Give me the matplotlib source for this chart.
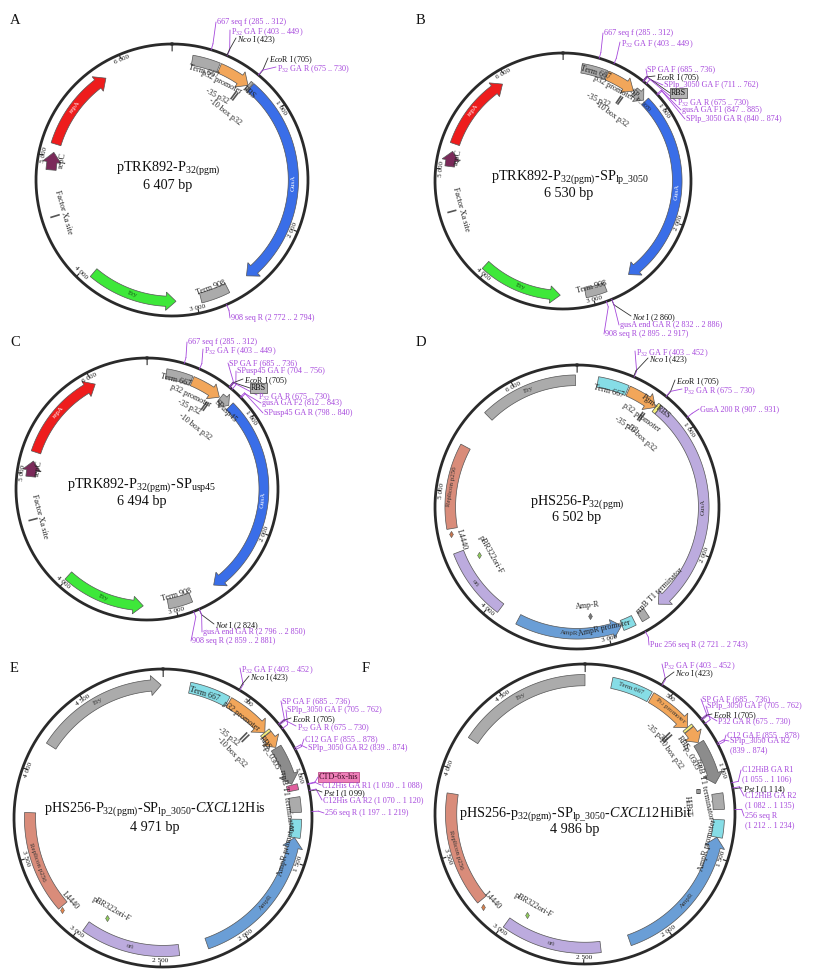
import numpy as np
import matplotlib
matplotlib.use("Agg")
import matplotlib.pyplot as plt

W, H = 816, 977

# ============================ DATA ============================
# ---- A : pTRK892-P32(pgm)
A_title = r"pTRK892-P$_{\mathrm{32(pgm)}}$"
A_bp_text = "6 407 bp"
A_size = 6407
A_feat_name = ["Term 667", "p32 promoter", "RBS", "GusA", "Term 908", "Ery", "repC", "repA"]
A_feat_start = [170, 410, 690, 718, 2720, 3170, 4890, 5110]
A_feat_end = [400, 690, 712, 2530, 2960, 3920, 5040, 5820]
A_feat_dir = [0, 1, 0, 1, 0, -1, 1, 1]
A_ticks = [1, 1000, 2000, 3000, 4000, 5000, 6000]
A_site_name = ["-35", "-10", "Factor Xa site"]
A_site_bp = [640, 662, 4500]
A_primer_text = ["667 seq f (285 .. 312)", r"P$_{32}$ GA F (403 .. 449)", r"$\mathit{Nco}$ I (423)",
                 r"$\mathit{Eco}$R I (705)", r"P$_{32}$ GA R (675 .. 730)", "908 seq R (2 772 .. 2 794)"]
A_primer_bp = [298, 426, 423, 705, 702, 2783]
A_primer_kind = ["p", "p", "e", "e", "p", "p"]
A_inner_text = ["Term 667", "p32 promoter", "RBS", "-35 p32", "-10 box p32", "Term 908",
                "Factor Xa site", "repC"]
A_band_text = ["GusA", "Ery", "repA"]

# ---- B : pTRK892-P32(pgm)-SPlp_3050
B_title = r"pTRK892-P$_{\mathrm{32(pgm)}}$-SP$_{\mathrm{lp\_3050}}$"
B_bp_text = "6 530 bp"
B_size = 6530
B_feat_name = ["Term 667", "p32 promoter", "SP", "GusA", "Term 908", "Ery", "repC", "repA"]
B_feat_start = [170, 410, 700, 832, 2870, 3290, 5030, 5240]
B_feat_end = [400, 690, 815, 2630, 3060, 4040, 5170, 5950]
B_feat_dir = [0, 1, 1, 1, 0, -1, 1, 1]
B_ticks = [1, 1000, 2000, 3000, 4000, 5000, 6000]
B_site_name = ["-35", "-10", "Factor Xa site"]
B_site_bp = [622, 644, 4620]
B_primer_text = ["667 seq f (285 .. 312)", r"P$_{32}$ GA F (403 .. 449)", "SP GA F (685 .. 736)",
                 r"$\mathit{Eco}$R I (705)", "SPlp_3050 GA F (711 .. 762)", "RBS",
                 r"P$_{32}$ GA R (675 .. 730)", "gusA GA F1 (847 .. 885)", "SPlp_3050 GA R (840 .. 874)",
                 r"$\mathit{Not}$ I (2 860)", "gusA end GA R (2 832 .. 2 886)", "908 seq R (2 895 .. 2 917)"]
B_primer_bp = [298, 426, 710, 705, 736, 700, 702, 866, 857, 2860, 2859, 2906]
B_primer_kind = ["p", "p", "p", "e", "p", "box", "p", "p", "p", "e", "p", "p"]
B_inner_text = ["Term 667", "p32 promoter", r"SP$_{\mathrm{lp\_3050}}$", "-35 p32", "-10 box p32",
                "Term 908", "Factor Xa site", "repC"]
B_band_text = ["GusA", "Ery", "repA"]

# ---- C : pTRK892-P32(pgm)-SPusp45
C_title = r"pTRK892-P$_{\mathrm{32(pgm)}}$-SP$_{\mathrm{usp45}}$"
C_bp_text = "6 494 bp"
C_size = 6494
C_feat_name = ["Term 667", "p32 promoter", "SPusp45", "GusA", "Term 908", "Ery", "repC", "repA"]
C_feat_start = [170, 410, 700, 812, 2850, 3280, 4980, 5200]
C_feat_end = [400, 690, 800, 2620, 3060, 4010, 5120, 6020]
C_feat_dir = [0, 1, 1, 1, 0, -1, 1, 1]
C_ticks = [1, 1000, 2000, 3000, 4000, 5000, 6000]
C_site_name = ["-35", "-10", "Factor Xa site"]
C_site_bp = [620, 642, 4600]
C_primer_text = ["667 seq f (285 .. 312)", r"P$_{32}$ GA F (403 .. 449)", "SP GA F (685 .. 736)",
                 "SPusp45 GA F (704 .. 756)", r"$\mathit{Eco}$R I (705)", "RBS",
                 r"P$_{32}$ GA R (675 .. 730)", "gusA GA F2 (812 .. 843)", "SPusp45 GA R (798 .. 840)",
                 r"$\mathit{Not}$ I (2 824)", "gusA end GA R (2 796 .. 2 850)", "908 seq R (2 859 .. 2 881)"]
C_primer_bp = [298, 426, 710, 730, 705, 700, 702, 828, 819, 2824, 2823, 2870]
C_primer_kind = ["p", "p", "p", "p", "e", "box", "p", "p", "p", "e", "p", "p"]
C_inner_text = ["Term 667", "p32 promoter", "SPusp45", "-35 p32", "-10 box p32", "Term 908",
                "Factor Xa site", "repC"]
C_band_text = ["GusA", "Ery", "repA"]

# ---- D : pHS256-P32(pgm)
D_title = r"pHS256-P$_{\mathrm{32(pgm)}}$"
D_bp_text = "6 502 bp"
D_size = 6502
D_feat_name = ["Term 667", "p32 promoter", "Pgm+RBS", "GusA", "rrnB T1 terminator", "AmpR promoter",
               "AmpR", "ori", "Replicon p256", "Ery"]
D_feat_start = [170, 430, 690, 722, 2650, 2770, 2880, 3920, 4700, 5700]
D_feat_end = [420, 690, 720, 2530, 2715, 2875, 3750, 4500, 5390, 6490]
D_feat_dir = [0, 1, 0, 1, 0, 0, -1, 0, 0, 0]
D_ticks = [1, 1000, 2000, 3000, 4000, 5000, 6000]
D_site_name = ["-35", "-10", "Amp-R", "pBR322ori-F", "L4440"]
D_site_bp = [628, 648, 3127, 4410, 4660]
D_primer_text = [r"P$_{32}$ GA F (403 .. 452)", r"$\mathit{Nco}$ I (423)", r"$\mathit{Eco}$R I (705)",
                 r"P$_{32}$ GA R (675 .. 730)", "GusA 200 R (907 .. 931)", "Puc 256 seq R (2 721 .. 2 743)"]
D_primer_bp = [428, 423, 705, 702, 919, 2732]
D_primer_kind = ["p", "e", "e", "p", "p", "p"]
D_inner_text = ["Term 667", "p32 promoter", "Pgm+RBS", "-35 p32", "-10 box p32", "rrnB T1 terminator",
                "AmpR promoter", "Amp-R", "L4440", "pBR322ori-F"]
D_band_text = ["GusA", "AmpR", "ori", "Replicon p256", "Ery"]

# ---- E : pHS256-P32(pgm)-SPlp_3050-CXCL12His
E_title = r"pHS256-P$_{\mathrm{32(pgm)}}$-SP$_{\mathrm{lp\_3050}}$-$\mathit{CXCL12}$His"
E_bp_text = "4 971 bp"
E_size = 4971
E_feat_name = ["Term 667", "p32 promoter", "RBS", "Lp_0305", "CXCL12", "CTD-6x-his", "rrnB T1 terminator",
               "AmpR promoter", "AmpR", "ori", "Replicon p256", "Ery"]
E_feat_start = [160, 410, 690, 708, 805, 1045, 1120, 1250, 1360, 2390, 3160, 4180]
E_feat_end = [400, 690, 706, 800, 1040, 1080, 1210, 1360, 2220, 2975, 3760, 4960]
E_feat_dir = [0, 1, 0, 1, 1, 0, 0, 0, -1, 0, 0, 1]
E_ticks = [1, 500, 1000, 1500, 2000, 2500, 3000, 3500, 4000, 4500]
E_site_name = ["-35", "-10", "pBR322ori-F", "L4440"]
E_site_bp = [615, 635, 2890, 3145]
E_primer_text = [r"P$_{32}$ GA F (403 .. 452)", r"$\mathit{Nco}$ I (423)", "SP GA F (685 .. 736)",
                 "SPlp_3050 GA F (705 .. 762)", r"$\mathit{Eco}$R I (705)", r"P$_{32}$ GA R (675 .. 730)",
                 "C12 GA F (855 .. 878)", "SPlp_3050 GA R2 (839 .. 874)", "CTD-6x-his",
                 "C12His GA R1 (1 030 .. 1 088)", r"$\mathit{Pst}$ I (1 099)",
                 "C12His GA R2 (1 070 .. 1 120)", "256 seq R (1 197 .. 1 219)"]
E_primer_bp = [428, 423, 710, 734, 705, 702, 866, 856, 1062, 1059, 1099, 1095, 1208]
E_primer_kind = ["p", "e", "p", "p", "e", "p", "p", "p", "pink", "p", "e", "p", "p"]
E_inner_text = ["Term 667", "p32 promoter", "RBS", "Lp_0305", "rrnB T1 terminator", "AmpR promoter",
                "-35 p32", "-10 box p32", "pBR322ori-F", "L4440"]
E_band_text = ["Ery", "AmpR", "ori", "Replicon p256"]

# ---- F : pHS256-p32(pgm)-SPlp_3050-CXCL12HiBit
F_title = r"pHS256-p$_{\mathrm{32(pgm)}}$-SP$_{\mathrm{lp\_3050}}$-$\mathit{CXCL12}$HiBit"
F_bp_text = "4 986 bp"
F_size = 4986
F_feat_name = ["Term 667", r"P$_{32}$ promoter", "RBS", "Lp_0305", "CXCL12HiBit", "rrnB T1 terminator",
               "AmpR promoter", "AmpR", "ori", "Replicon p256", "Ery"]
F_feat_start = [160, 410, 690, 708, 805, 1125, 1280, 1385, 2400, 3190, 4200]
F_feat_end = [400, 690, 706, 800, 1065, 1220, 1385, 2225, 2990, 3860, 4986]
F_feat_dir = [0, 1, 0, 1, 1, 0, 0, -1, 0, 0, 0]
F_ticks = [1, 500, 1000, 1500, 2000, 2500, 3000, 3500, 4000, 4500]
F_site_name = ["HiBiT", "-35", "-10", "pBR322ori-F", "L4440"]
F_site_bp = [1090, 640, 660, 2908, 3152]
F_primer_text = [r"P$_{32}$ GA F (403 .. 452)", r"$\mathit{Nco}$ I (423)", "SP GA F (685 .. 736)",
                 "SPlp_3050 GA F (705 .. 762)", r"$\mathit{Eco}$R I (705)", "P32 GA R (675 .. 730)",
                 "C12 GA F (855 .. 878)", "SPlp_3050 GA R2\n(839 .. 874)", "C12HiB GA R1\n(1 055 .. 1 106)",
                 r"$\mathit{Pst}$ I (1 114)", "C12HiB GA R2\n(1 082 .. 1 135)", "256 seq R\n(1 212 .. 1 234)"]
F_primer_bp = [428, 423, 710, 734, 705, 702, 866, 856, 1080, 1114, 1108, 1223]
F_primer_kind = ["p", "e", "p", "p", "e", "p", "p", "p", "p", "e", "p", "p"]
F_inner_text = ["-35 p32", "-10 box p32", "RBS", "Lp_0305", "rrnB T1 terminator", "HiBiT",
                "AmpR promoter", "pBR322ori-F", "L4440"]
F_band_text = ["Term 667", r"P$_{32}$ promoter", "Ery", "AmpR", "ori", "Replicon p256"]

# ============================ STYLE / LAYOUT ============================
plt.rcParams["font.family"] = ["Liberation Serif", "DejaVu Serif"]
plt.rcParams["mathtext.fontset"] = "custom"
plt.rcParams["mathtext.rm"] = "Liberation Serif"
plt.rcParams["mathtext.it"] = "Liberation Serif:italic"
plt.rcParams["mathtext.bf"] = "Liberation Serif:bold"

GRAY, ORANGE, BLUE, GREEN = "#ababab", "#f2a65a", "#3a6ee8", "#3ee83a"
RED, MAROON, CYAN, LAV = "#ee1d1d", "#7b2a5a", "#86dde6", "#bcabde"
AMPB, SALMON, YELLOW, PINK, DGRAY = "#6a9ed6", "#d98c7a", "#f5ef7c", "#e0609e", "#8c8c8c"
BACK, EDGE, PURPLE, DARK = "#2a2a2a", "#555555", "#a648dc", "#222222"
R0, R1, RT = 0.855, 0.93, 0.958
FS = 5.9
FS_IN = 5.9
FS_TITLE = 10.2

A_L = dict(center=(172, 180, 136), title_xy=(168, 168), bp_xy=(168, 186), letter=("A", 10, 20),
           colors=[GRAY, ORANGE, GRAY, BLUE, GRAY, GREEN, MAROON, RED],
           band_color=["white", "#145214", "white"],
           site_r=[0.77, 0.77, 0.9], site_mark=["|", "|", "|"], site_color=["#555", "#555", "#555"],
           primer_xy=[(217, 22), (231, 30), (237, 38), (269, 58), (277, 67), (231, 318)],
           inner_xy=[(204, 71), (221, 82), (249, 93), (217, 96), (225, 112), (211, 288), (63, 212), (62, 160)])
B_L = dict(center=(563, 181, 128), title_xy=(570, 177), bp_xy=(569, 193), letter=("B", 416, 20),
           colors=[GRAY, ORANGE, GRAY, BLUE, GRAY, GREEN, MAROON, RED],
           band_color=["white", "#145214", "white"],
           site_r=[0.77, 0.77, 0.9], site_mark=["|", "|", "|"], site_color=["#555", "#555", "#555"],
           primer_xy=[(604, 33), (621, 42), (647, 69), (656, 76), (664, 85), (671, 93), (677, 101),
                      (682, 110), (686, 119), (632, 316), (620, 325), (605, 334)],
           inner_xy=[(596, 73), (613, 88), (641, 100), (598, 100), (611, 114), (591, 287), (461, 209),
                     (458, 157)])
C_L = dict(center=(147, 489, 131), title_xy=(142, 485), bp_xy=(142, 502), letter=("C", 10, 343),
           colors=[GRAY, ORANGE, GRAY, BLUE, GRAY, GREEN, MAROON, RED],
           band_color=["white", "#145214", "white"],
           site_r=[0.77, 0.77, 0.9], site_mark=["|", "|", "|"], site_color=["#555", "#555", "#555"],
           primer_xy=[(188, 342), (204, 349), (229, 363), (237, 371), (244, 379), (251, 388), (258, 395),
                      (262, 403), (264, 413), (215, 624), (203, 632), (192, 641)],
           inner_xy=[(176, 380), (191, 396), (225, 411), (189, 407), (195, 427), (176, 595), (40, 517),
                     (38, 468)])
D_L = dict(center=(577, 507, 142), title_xy=(577, 502), bp_xy=(577, 518), letter=("D", 416, 343),
           colors=[CYAN, ORANGE, YELLOW, LAV, GRAY, CYAN, AMPB, LAV, SALMON, GRAY],
           band_color=["#333"] * 5,
           site_r=[0.78, 0.78, 0.77, 0.77, 0.91], site_mark=["|", "|", "d", "d", "d"],
           site_color=["#555", "#555", "#777", "#8fce5a", "#c8764f"],
           primer_xy=[(636, 351), (649, 358), (676, 380), (683, 389), (700, 409), (650, 645)],
           inner_xy=[(609, 391), (641, 417), (656, 406), (626, 425), (640, 437), (660, 591), (604, 628),
                     (588, 606), (462, 540), (491, 555)])
E_L = dict(center=(163, 818, 149), title_xy=(155, 809), bp_xy=(155, 827), letter=("E", 10, 668),
           colors=[CYAN, ORANGE, YELLOW, ORANGE, DGRAY, PINK, GRAY, CYAN, AMPB, LAV, SALMON, GRAY],
           band_color=["#333"] * 4,
           site_r=[0.77, 0.77, 0.77, 0.92], site_mark=["|", "|", "d", "d"],
           site_color=["#555", "#555", "#8fce5a", "#e8864a"],
           primer_xy=[(241, 668), (250, 676), (282, 701), (287, 710), (292, 718), (297, 726), (305, 739),
                      (308, 748), (319, 777), (322, 785), (323, 792), (323, 800), (325, 813)],
           inner_xy=[(204, 694), (241, 716), (265, 743), (270, 757), (286, 800), (287, 850), (228, 737),
                     (231, 752), (111, 909), (70, 901)])
F_L = dict(center=(585, 814, 150), title_xy=(576, 814), bp_xy=(575, 830), letter=("F", 362, 668),
           colors=[CYAN, ORANGE, YELLOW, ORANGE, DGRAY, GRAY, CYAN, AMPB, LAV, SALMON, GRAY],
           band_color=["#333"] * 6,
           site_r=[0.77, 0.75, 0.75, 0.78, 0.92], site_mark=["s", "|", "|", "d", "d"],
           site_color=["#9a9a9a", "#555", "#555", "#8fce5a", "#d8824e"],
           primer_xy=[(663, 664), (675, 672), (702, 699), (707, 706), (713, 714), (718, 721), (727, 735),
                      (730, 741), (742, 770), (743, 788), (745, 796), (745, 816)],
           inner_xy=[(656, 733), (670, 752), (683, 743), (690, 757), (704, 789), (688, 806), (708, 845),
                     (533, 905), (492, 900)])


def pack(p):
    g = globals()
    keys = ["title", "bp_text", "size", "feat_name", "feat_start", "feat_end", "feat_dir", "ticks",
            "site_name", "site_bp", "primer_text", "primer_bp", "primer_kind", "inner_text", "band_text"]
    return {k: g[p + "_" + k] for k in keys}


fig = plt.figure(figsize=(W / 100, H / 100), dpi=100)
fig.patch.set_facecolor("white")


def tan_rot(deg):
    deg = deg % 360.0
    rot = -deg
    if 90.0 < deg < 270.0:
        rot += 180.0
    return rot


def arc_shape(a, b, d, r0, r1, R):
    rm = 0.5 * (r0 + r1)
    n = max(int(abs(b - a) * 200), 4)
    flare = 0.03
    if d == 0:
        t = np.linspace(a, b, n)
        return np.r_[t, t[::-1]], np.r_[np.full(n, r1), np.full(n, r0)]
    hl = min(10.0 / (R * rm), 0.6 * (b - a))
    if d > 0:
        t = np.linspace(a, b - hl, n)
        th = np.r_[t, b - hl, b, b - hl, t[::-1]]
        rr = np.r_[np.full(n, r1), r1 + flare, rm, r0 - flare, np.full(n, r0)]
    else:
        t = np.linspace(a + hl, b, n)
        th = np.r_[a + hl, a, a + hl, t, t[::-1]]
        rr = np.r_[r0 - flare, rm, r1 + flare, np.full(n, r1), np.full(n, r0)]
    return th, rr


def fx(x):
    return x / W


def fy(y):
    return 1 - y / H


def draw_panel(D, L):
    cx, cy, R = L["center"]
    pad = 1.1
    ax = fig.add_axes([fx(cx - R * pad), fy(cy + R * pad), 2 * R * pad / W, 2 * R * pad / H],
                      projection="polar")
    ax.set_theta_zero_location("N")
    ax.set_theta_direction(-1)
    ax.set_ylim(0, pad)
    ax.set_axis_off()
    size = D["size"]

    def ang(bp):
        return 2 * np.pi * bp / size

    t = np.linspace(0, 2 * np.pi, 900)
    ax.plot(t, np.ones_like(t), color=BACK, lw=2.0, zorder=4)
    for k in D["ticks"]:
        a = ang(k)
        ax.plot([a, a], [0.972 if k > 1 else 0.95, 1.0], color=BACK, lw=0.8, zorder=4)
        if k > 1:
            ax.text(a, RT, f"{k:,}".replace(",", " "), rotation=tan_rot(np.degrees(a)),
                    rotation_mode="anchor", ha="center", va="center", fontsize=5.2, color="#111", zorder=5)
    for name, s, e, d, col in zip(D["feat_name"], D["feat_start"], D["feat_end"], D["feat_dir"],
                                  L["colors"]):
        tt, rr = arc_shape(ang(s), ang(e), d, R0, R1, R)
        ax.fill(tt, rr, facecolor=col, edgecolor=EDGE, lw=0.5, zorder=3)
    for name, tc in zip(D["band_text"], L["band_color"]):
        i = D["feat_name"].index(name)
        a = ang(0.5 * (D["feat_start"][i] + D["feat_end"][i]))
        ax.text(a, 0.5 * (R0 + R1), name, rotation=tan_rot(np.degrees(a)), rotation_mode="anchor",
                ha="center", va="center", fontsize=5, color=tc, zorder=5)
    for name, bp, r, mk, col in zip(D["site_name"], D["site_bp"], L["site_r"], L["site_mark"],
                                    L["site_color"]):
        a = ang(bp)
        if mk == "|":
            ax.plot([a, a], [r - 0.03, r + 0.03], color=col, lw=1.2, zorder=4)
        else:
            ax.plot([a], [r], marker=mk, ms=3.2, color=col, mec="#555", mew=0.4, zorder=4)
    for txt, bp, kind, (x, y) in zip(D["primer_text"], D["primer_bp"], D["primer_kind"], L["primer_xy"]):
        a = ang(bp)
        col = PURPLE if kind in ("p", "pink") else "#333"
        ax.plot([a, a], [1.0, 1.045], color=col, lw=0.6, zorder=4)
        ax.annotate("", xy=(a, 1.045), xycoords="data", xytext=(x - 1, H - y), textcoords="figure pixels",
                    arrowprops=dict(arrowstyle="-", color=col, lw=0.6, shrinkA=0, shrinkB=0),
                    annotation_clip=False)
        kw = {}
        tcol = PURPLE if kind == "p" else "#111"
        if kind == "box":
            kw["bbox"] = dict(boxstyle="square,pad=0.12", fc="#b5b5b5", ec="#444", lw=0.5)
        if kind == "pink":
            kw["bbox"] = dict(boxstyle="square,pad=0.12", fc="#ee7fb8", ec="#b03878", lw=0.5)
            tcol = "#3a0a22"
        fig.text(fx(x), fy(y - 4), txt, ha="left", va="top", fontsize=FS, color=tcol,
                 linespacing=1.15, **kw)
    for txt, (x, y) in zip(D["inner_text"], L["inner_xy"]):
        deg = np.degrees(np.arctan2(x - cx, cy - y))
        fig.text(fx(x), fy(y), txt, rotation=tan_rot(deg), rotation_mode="anchor", ha="center",
                 va="center", fontsize=FS_IN, color=DARK)
    fig.text(fx(L["title_xy"][0]), fy(L["title_xy"][1]), D["title"], ha="center", va="center",
             fontsize=FS_TITLE, color="#111")
    fig.text(fx(L["bp_xy"][0]), fy(L["bp_xy"][1]), D["bp_text"], ha="center", va="center",
             fontsize=FS_TITLE, color="#111")
    lt, lx, ly = L["letter"]
    fig.text(fx(lx), fy(ly), lt, ha="left", va="center", fontsize=10.5, color="#111")


for p, L in zip("ABCDEF", [A_L, B_L, C_L, D_L, E_L, F_L]):
    draw_panel(pack(p), L)

fig.savefig("out.png", dpi=100, facecolor="white")
